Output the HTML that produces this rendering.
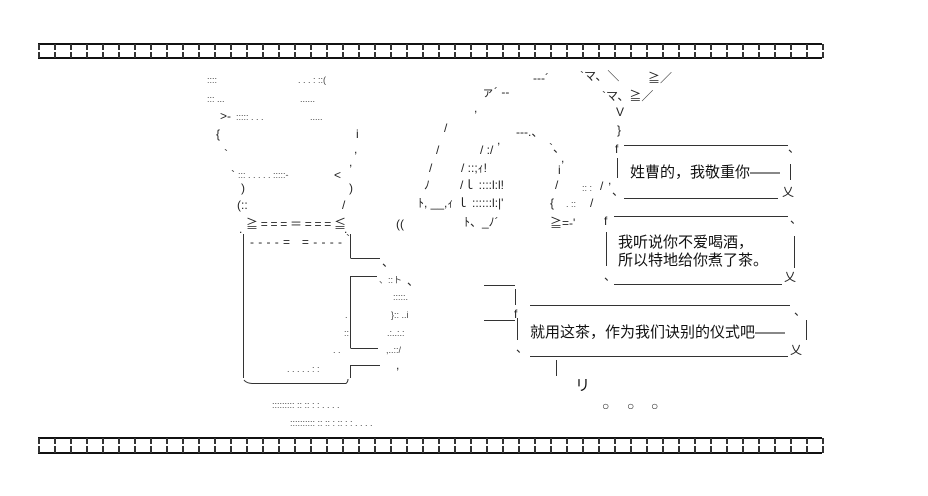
<!DOCTYPE html>
<html><head><meta charset="utf-8"><style>
html,body{margin:0;padding:0;background:#fff;}
svg{display:block}
text{font-family:"Liberation Sans","Noto Sans CJK SC",sans-serif;fill:#222;}
.a{font-size:12px;}
.s{font-size:9px;fill:#444;}
.c{font-size:15px;fill:#111;}
</style></head><body>
<svg width="928" height="496" viewBox="0 0 928 496" xmlns="http://www.w3.org/2000/svg">
<defs>
<pattern id="bar" x="38" y="0" width="16" height="496" patternUnits="userSpaceOnUse">
<rect x="0" y="0" width="2" height="496" fill="#333"/>
</pattern>
</defs>
<g>
<rect x="38" y="43" width="784" height="2" fill="#111"/>
<rect x="38" y="57" width="784" height="2" fill="#111"/>
<rect x="38" y="44" width="786" height="6" fill="url(#bar)"/>
<rect x="38" y="52" width="786" height="6" fill="url(#bar)"/>
</g>
<g>
<rect x="38" y="437" width="784" height="2" fill="#111"/>
<rect x="38" y="452" width="784" height="2" fill="#111"/>
<rect x="38" y="438" width="786" height="6" fill="url(#bar)"/>
<rect x="38" y="446" width="786" height="7" fill="url(#bar)"/>
</g>

<!-- face -->
<text class="s" x="207" y="83">::::</text>
<text class="s" x="298" y="83">. . . : ::(</text>
<text class="s" x="207" y="102">::: ...</text>
<text class="s" x="300" y="102">......</text>
<text class="a" x="220" y="120">&gt;-</text>
<text class="s" x="236" y="120">::::: . . .</text>
<text class="s" x="310" y="120">.....</text>
<text class="a" x="216" y="138">{</text>
<text class="a" x="356" y="138">i</text>
<text class="a" x="354" y="153">,</text>
<text class="a" x="224" y="158">`</text>
<text class="a" x="349" y="166">,</text>
<text class="a" x="231" y="179">`</text>
<text class="s" x="238" y="178">::: . .    . . . :::::-</text>
<text class="a" x="334" y="179">&lt;</text>
<text class="a" x="241" y="192">)</text>
<text class="a" x="349" y="192">)</text>
<text class="a" x="237" y="209">(::</text>
<text class="a" x="342" y="209">/</text>

<!-- mug -->
<text class="a" x="246" y="228" textLength="100">≧===＝===≦</text>
<text class="a" x="239" y="233">.</text>
<text class="a" x="344" y="233">.</text>
<text class="a" x="346" y="243">`</text>
<text class="a" x="250" y="246" textLength="92">----=  =----</text>
<g stroke="#333" stroke-width="1" fill="none">
<line x1="243.5" y1="234" x2="243.5" y2="378"/>
<line x1="350.5" y1="234" x2="350.5" y2="258"/>
<path d="M350.5 258.5 H380"/>
<path d="M350.5 292 V276.5 H377"/>
<line x1="350.5" y1="276" x2="350.5" y2="348"/>
<path d="M350.5 348.5 H378"/>
<path d="M350.5 378 V365.5 H380"/>
<path d="M244 380 Q246 383 252 383.5 H346 Q348 382 348 379"/>
</g>
<text class="a" x="382" y="266">、</text>
<text class="s" x="379" y="283">、::ト</text>
<text class="a" x="407" y="285">、</text>
<text class="s" x="393" y="300">:::::.</text>
<text class="s" x="391" y="318">}:: ..i</text>
<text class="s" x="387" y="336">.:..:.:</text>
<text class="s" x="386" y="353">,..::/</text>
<text class="a" x="396" y="369">,</text>
<text class="s" x="345" y="318">.</text>
<text class="s" x="344" y="336">::</text>
<text class="s" x="333" y="353">. .</text>
<text class="s" x="287" y="372">. . . . . : :</text>
<text class="s" x="272" y="408">::::::::: :: :: : : . . . .</text>
<text class="s" x="290" y="426">:::::::::: :: :: : :: : : . . . .</text>

<!-- arm / pipe -->
<text class="a" x="533" y="82">--‐´</text>
<text class="a" x="580" y="80">`マ、＼</text>
<text class="a" x="648" y="82">≧／</text>
<text class="a" x="482" y="96">ァ´ --</text>
<text class="a" x="602" y="100">`マ、≧／</text>
<text class="a" x="474" y="112">,</text>
<text class="a" x="616" y="116">V</text>
<text class="a" x="617" y="134">}</text>
<text class="a" x="444" y="132">/</text>
<text class="a" x="497" y="144">,</text>
<text class="a" x="516" y="136">--‐.、</text>
<text class="a" x="549" y="152">`、</text>
<text class="a" x="436" y="154">/</text>
<text class="a" x="480" y="154">/  :/</text>
<text class="a" x="561" y="162">,</text>
<text class="a" x="429" y="172">/</text>
<text class="a" x="461" y="172">/   ::;ｨ!</text>
<text class="a" x="558" y="174">i</text>
<text class="a" x="424" y="189">ﾉ</text>
<text class="a" x="460" y="189">/ｌ  ::::l:l!</text>
<text class="a" x="555" y="189">/</text>
<text class="s" x="582" y="191">:: :</text>
<text class="a" x="600" y="190">/</text>
<text class="a" x="418" y="207">ﾄ, __,ｨ ｌ ::::::l:|'</text>
<text class="a" x="550" y="207">{</text>
<text class="s" x="566" y="207">.  ::</text>
<text class="a" x="590" y="207">/</text>
<text class="a" x="396" y="228">((</text>
<text class="a" x="464" y="226">ﾄ、_ﾉ´</text>
<text class="a" x="550" y="227">≧=-'</text>

<g stroke="#333" stroke-width="1" fill="none">
<line x1="624" y1="145.5" x2="788" y2="145.5"/>
<line x1="624" y1="198.5" x2="778" y2="198.5"/>
<line x1="617.5" y1="158" x2="617.5" y2="178"/>
<line x1="790.5" y1="164" x2="790.5" y2="180"/>
<line x1="614" y1="216.5" x2="788" y2="216.5"/>
<line x1="614" y1="284.5" x2="782" y2="284.5"/>
<line x1="606.5" y1="232" x2="606.5" y2="266"/>
<line x1="794.5" y1="236" x2="794.5" y2="268"/>
<line x1="530" y1="305.5" x2="790" y2="305.5"/>
<line x1="530" y1="356.5" x2="788" y2="356.5"/>
<line x1="517.5" y1="318" x2="517.5" y2="340"/>
<line x1="806.5" y1="320" x2="806.5" y2="340"/>
<line x1="484" y1="285.5" x2="515" y2="285.5"/>
<line x1="515.5" y1="289" x2="515.5" y2="305"/>
<line x1="484" y1="320.5" x2="515" y2="320.5"/>
<line x1="556.5" y1="360" x2="556.5" y2="376"/>
</g>
<text class="a" x="615" y="153">f</text>
<text class="a" x="788" y="152">、</text>
<text class="a" x="612" y="195">、</text>
<text class="a" x="782" y="196">乂</text>
<text class="a" x="608" y="184">,</text>
<text class="c" x="630" y="177">姓曹的，我敬重你——</text>

<text class="a" x="604" y="225">f</text>
<text class="a" x="790" y="223">、</text>
<text class="a" x="604" y="280">、</text>
<text class="a" x="784" y="281">乂</text>
<text class="c" x="618" y="247">我听说你不爱喝酒，</text>
<text class="c" x="618" y="265">所以特地给你煮了茶。</text>

<text class="a" x="514" y="318">f</text>
<text class="a" x="794" y="315">、</text>
<text class="a" x="516" y="352">、</text>
<text class="a" x="790" y="354">乂</text>
<text class="c" x="530" y="337">就用这茶，作为我们诀别的仪式吧——</text>

<text class="c" x="575" y="390">リ</text>
<text class="a" x="602" y="410">○</text>
<text class="a" x="627" y="410">○</text>
<text class="a" x="651" y="410">○</text>
</svg>
</body></html>
